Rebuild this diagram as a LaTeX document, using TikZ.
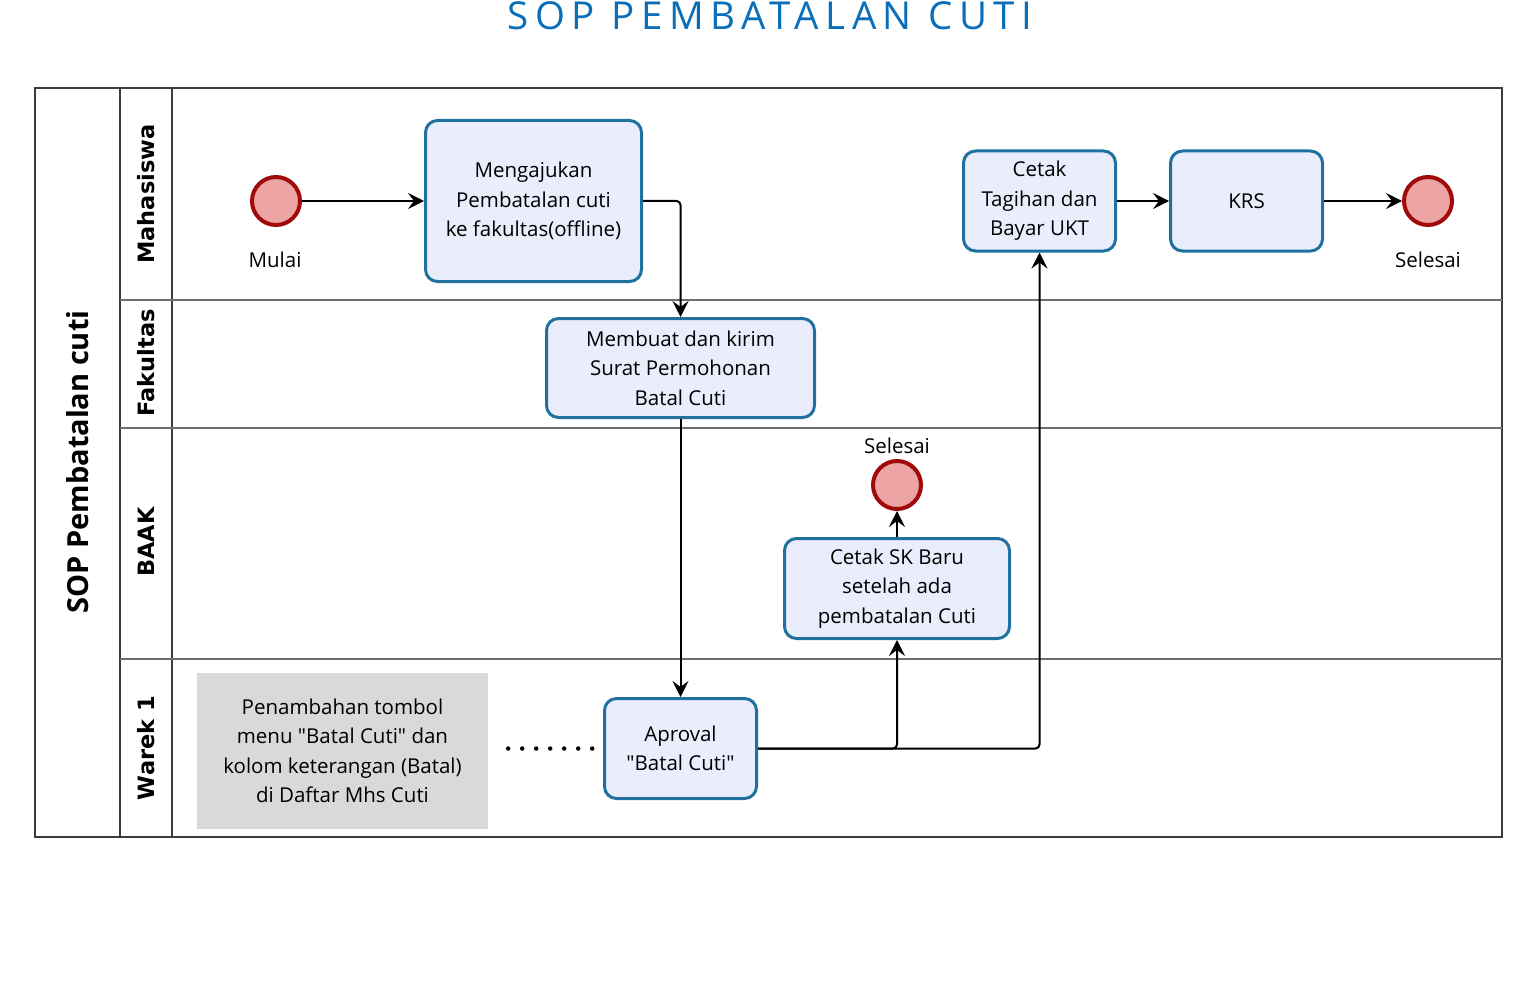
\documentclass[tikz,border=0pt]{standalone}
\usepackage{fontspec}
\setmainfont{Open Sans}[Ligatures=TeXOff]
\newfontfamily\titlefont[LetterSpace=17]{Open Sans}
\newfontfamily\lanefont{DejaVu Sans}
\usetikzlibrary{arrows.meta}
\definecolor{boxline}{RGB}{32,112,160}
\definecolor{boxfill}{RGB}{234,238,252}
\definecolor{evfill}{RGB}{236,164,164}
\definecolor{evline}{RGB}{160,10,10}
\definecolor{titleblue}{RGB}{10,110,185}
\definecolor{poolline}{RGB}{60,60,60}
\definecolor{laneline}{RGB}{110,110,110}
\definecolor{notefill}{RGB}{217,217,217}
\tikzset{
  task/.style={draw=boxline, line width=3pt, fill=boxfill, rounded corners=12pt,
    align=center, font=\fontsize{20.5}{29.5}\selectfont, inner sep=0pt},
  note/.style={fill=notefill, align=center, font=\fontsize{20.5}{29.5}\selectfont, inner sep=0pt},
  event/.style={circle, draw=evline, line width=4pt, fill=evfill, minimum size=48pt, inner sep=0pt},
  evlabel/.style={font=\fontsize{20.5}{24}\selectfont, inner sep=0pt},
  flow/.style={line width=2pt, -{Stealth[length=16pt,width=16pt,inset=6pt]}, rounded corners=4pt},
  lanelabel/.style={rotate=90, font=\lanefont\bfseries\fontsize{22.5}{26}\selectfont, inner sep=0pt},
  pooltitle/.style={rotate=90, font=\bfseries\fontsize{29}{32}\selectfont, inner sep=0pt},
  assoc/.style={line width=4.5pt, line cap=round, dash pattern=on 0pt off 14pt}
}
\begin{document}
\begin{tikzpicture}[x=1pt,y=-1pt]
\useasboundingbox (0,0) rectangle (1536,995);
% title
\node[anchor=base, text=titleblue, font=\titlefont\fontsize{38.5}{40}\selectfont, inner sep=0pt] (title) at (770,30) {SOP PEMBATALAN CUTI};
% pool
\draw[poolline, line width=1.8pt] (35,88) rectangle (1502,837);
\draw[poolline, line width=1.5pt] (120,88) -- (120,837);
\draw[poolline, line width=1.2pt] (172,88) -- (172,837);
\draw[laneline, line width=2.6pt] (120,300) -- (1502,300);
\draw[laneline, line width=2.6pt] (120,428) -- (1502,428);
\draw[laneline, line width=2.6pt] (120,659) -- (1502,659);
\node[pooltitle] (pool) at (78,462) {SOP Pembatalan cuti};
\node[lanelabel] (l1) at (146,194) {Mahasiswa};
\node[lanelabel] (l2) at (146,363) {Fakultas};
\node[lanelabel] (l3) at (146,542) {BAAK};
\node[lanelabel] (l4) at (146,748) {Warek 1};
% events
\node[event] (start) at (276,201) {};
\node[evlabel] (startlbl) at (275,260) {Mulai};
\node[event] (end1) at (1428,201) {};
\node[evlabel] (end1lbl) at (1428,260) {Selesai};
\node[event] (end2) at (897,485) {};
\node[evlabel] (end2lbl) at (897,446) {Selesai};
% tasks
\node[task, minimum width=216pt, minimum height=161pt] (ajukan) at (533.5,201) {Mengajukan\\Pembatalan cuti\\ke fakultas(offline)};
\node[task, minimum width=152pt, minimum height=100pt] (tagihan) at (1039.5,201) {Cetak\\Tagihan dan\\Bayar UKT};
\node[task, minimum width=152pt, minimum height=100pt] (krs) at (1246.5,201) {KRS};
\node[task, minimum width=268pt, minimum height=99pt] (surat) at (680.5,368) {Membuat dan kirim\\Surat Permohonan\\Batal Cuti};
\node[task, minimum width=225pt, minimum height=100pt] (sk) at (897,588.5) {Cetak SK Baru\\setelah ada\\pembatalan Cuti};
\node[task, minimum width=152pt, minimum height=100pt] (aproval) at (680.5,748.5) {Aproval\\"Batal Cuti"};
\node[note, minimum width=291pt, minimum height=156pt] (gray) at (342.5,751) {Penambahan tombol\\menu "Batal Cuti" dan\\kolom keterangan (Batal)\\di Daftar Mhs Cuti};
% flows
\draw[flow] (start) -- (ajukan);
\draw[flow] (ajukan.east) -| (surat.north);
\draw[flow] (surat) -- (aproval);
\draw[flow] (aproval.east) -| (sk.south);
\draw[flow] (aproval.east) -| (tagihan.south);
\draw[flow] (sk) -- (end2);
\draw[flow] (tagihan) -- (krs);
\draw[flow] (krs) -- (end1);
\draw[assoc] ([xshift=20pt]gray.east |- aproval.west) -- ([xshift=-10pt]aproval.west);
\end{tikzpicture}
\end{document}
